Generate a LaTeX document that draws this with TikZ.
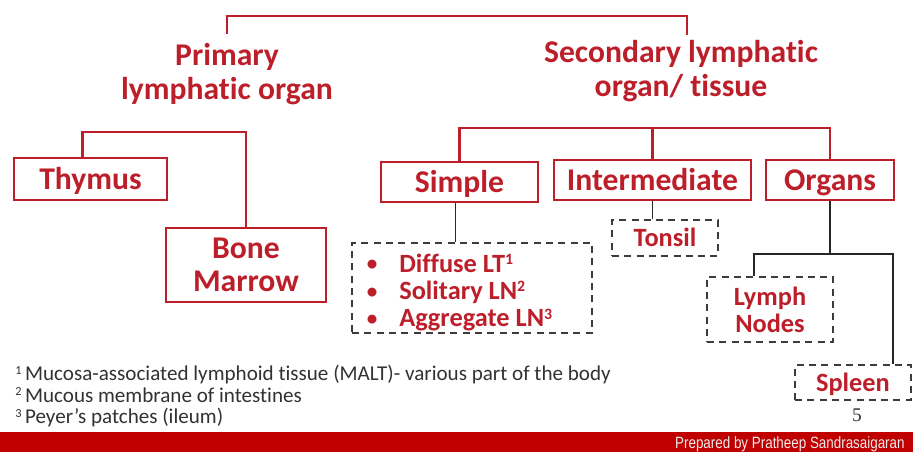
\documentclass[tikz,border=0pt]{standalone}
\usepackage{fontspec}
\setmainfont[Ligatures={NoCommon}]{Carlito}
\newfontfamily\prepfont[FakeStretch=0.82]{Liberation Sans}
\newfontfamily\numfont{Liberation Serif}
\usetikzlibrary{positioning, calc}
\definecolor{lymred}{RGB}{188,30,42}
\definecolor{lymbar}{RGB}{192,0,0}
\definecolor{lymgray}{RGB}{60,60,60}
\definecolor{lymink}{RGB}{50,50,50}
\newcommand{\supnum}[1]{\raisebox{0.6ex}{\fontsize{9}{9}\selectfont #1}}
\newcommand{\lymbullet}{\raisebox{0.1ex}{\fontsize{12}{12}\selectfont\textbullet}}
\tikzset{
  heading/.style={
    text=lymred,
    align=center,
    inner sep=0pt,
    font=\bfseries\fontsize{18}{19}\selectfont
  },
  redbox/.style={
    draw=lymred,
    line width=1.4pt,
    text=lymred,
    align=center,
    inner sep=0pt,
    font=\bfseries\fontsize{18}{19}\selectfont
  },
  dashbox/.style={
    draw=lymgray,
    line width=1.1pt,
    dash pattern=on 4pt off 3pt,
    text=lymred,
    align=center,
    inner sep=0pt,
    font=\bfseries\fontsize{15}{15.5}\selectfont
  },
  oneline/.style={text height=#1, text depth=0pt},
  bracket/.style={draw=lymred, line width=1.4pt},
  stem/.style={draw=black!85, line width=1.1pt}
}

\begin{document}
\begin{tikzpicture}
        \useasboundingbox (0,0) rectangle (18.26,-9.04);
        % titles
        \node[heading] (primary) at (4.54,-1.48) {Primary\\lymphatic organ};
        \node[heading] (secondary) at (13.62,-1.42) {Secondary lymphatic\\organ/ tissue};
        \draw[bracket] ([yshift=0.18cm]primary.north) -- ++(0,0.36) -| ([xshift=0.12cm,yshift=0.11cm]secondary.north);

        % primary side
        \node[redbox, oneline=11.6pt, minimum width=3.06cm, minimum height=0.84cm] (thymus) at (1.81,-3.58) {Thymus};
        \node[redbox, minimum width=3.2cm, minimum height=1.48cm] (bone) at (4.92,-5.30) {Bone\\Marrow};
        \draw[bracket] ([xshift=-0.16cm]thymus.north) -- ++(0,0.5) -| (bone.north);

        % secondary side
        \node[redbox, oneline=11.6pt, minimum width=3.14cm, minimum height=0.80cm] (simple) at (9.19,-3.64) {Simple};
        \node[redbox, oneline=11.6pt, minimum width=3.94cm, minimum height=0.80cm] (inter) at (13.05,-3.60) {Intermediate};
        \node[redbox, oneline=11.6pt, minimum width=2.56cm, minimum height=0.80cm] (organs) at (16.60,-3.60) {Organs};
        \draw[bracket] (simple.north) -- ++(0,0.66) -| (organs.north);
        \draw[bracket] (inter.north) -- ++(0,0.62);

        \node[dashbox, minimum width=4.8cm, minimum height=1.8cm] (simplelist) at (9.44,-5.76)
          {\raisebox{-0.12cm}[\height][\depth]{\begin{tabular}{@{}l@{\hspace{4.4mm}}l@{\hspace{0.5cm}}}
            \lymbullet & Diffuse LT\supnum{1}\\
            \lymbullet & Solitary LN\supnum{2}\\
            \lymbullet & Aggregate LN\supnum{3}
          \end{tabular}}};
        \node[dashbox, oneline=9.7pt, minimum width=2.12cm, minimum height=0.72cm] (tonsil) at (13.30,-4.76) {Tonsil};
        \node[dashbox, minimum width=2.52cm, minimum height=1.30cm] (lymph) at (15.40,-6.19) {Lymph\\Nodes};
        \node[dashbox, oneline=9.7pt, minimum width=2.32cm, minimum height=0.70cm] (spleen) at (17.06,-7.65) {Spleen};

        \draw[stem] ([xshift=-0.08cm]simple.south) -- ([xshift=-0.08cm]simple.south |- simplelist.north);
        \draw[stem] (inter.south) -- (inter.south |- tonsil.north);
        \coordinate (orgbar) at ($(organs.south)+(0,-1.06)$);
        \draw[stem] (organs.south) -- (orgbar);
        \draw[stem] ([xshift=-0.32cm]lymph.north) |- ([xshift=0.8cm]spleen.north |- orgbar) -- ([xshift=0.8cm]spleen.north);

        % footnotes and footer
        \node[anchor=west, align=left, inner sep=0pt, text=lymink, font=\fontsize{12}{12.2}\selectfont] (notes) at (0.3,-7.92)
          {\raisebox{0.6ex}{\fontsize{7}{7}\selectfont 1}\,Mucosa-associated lymphoid tissue (MALT)- various part of the body\\
           \raisebox{0.6ex}{\fontsize{7}{7}\selectfont 2}\,Mucous membrane of intestines\\
           \raisebox{0.6ex}{\fontsize{7}{7}\selectfont 3}\,Peyer's patches (ileum)};
        \node[text=lymink, inner sep=0pt, font=\numfont\fontsize{11}{12}\selectfont] (pagenum) at (17.14,-8.30) {5};
        \fill[lymbar] (0,-8.64) rectangle (18.26,-9.04);
        \node[anchor=east, inner sep=0pt, text=white!85!gray, font=\prepfont\fontsize{9.3}{10}\selectfont] (prep) at (18.1,-8.88) {Prepared by Pratheep Sandrasaigaran};
      \end{tikzpicture}
\end{document}
